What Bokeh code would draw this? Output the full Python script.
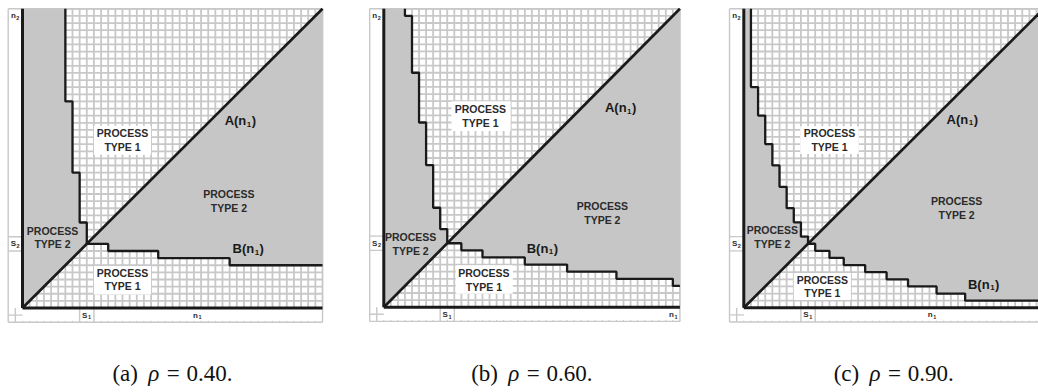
import numpy as np
from bokeh.plotting import figure
from bokeh.layouts import row
from bokeh.core.properties import value
from bokeh.embed import file_html
from bokeh.resources import INLINE

# ---- data -------------------------------------------------------------
N_CELLS = 42                      # extent of the (n1, n2) lattice
SWITCH_POINT = [9, 9, 9]          # S1 = S2 for each panel
PANEL_TAGS = ["(a)", "(b)", "(c)"]
RHO = ["0.40", "0.60", "0.90"]

# B(n1): n1 where each step starts, and the n2 level held from there on
B_START_A = [9, 12, 19, 29]
B_LEVEL_A = [9, 8, 7, 6]
B_START_B = [9, 11, 14, 20, 26, 33, 41]
B_LEVEL_B = [9, 8, 7, 6, 5, 4, 3]
B_START_C = [9, 10, 12, 14, 17, 20, 23, 27, 31]
B_LEVEL_C = [9, 8, 7, 6, 5, 4, 3, 2, 1]

# ---- layout (pixels / label placement) -------------------------------
FIG_W = [360, 360, 318]
FIG_H = 392
AXIS_X_PX = [22.0, 23.3, 23.3]    # pixel column of n1 = 0 inside each figure
CELL_X_PX = [7.143, 7.05, 7.14]
TOP_PX = 8.3
AXIS_Y_PX = [307.5, 306.7, 307.3]
CAPTION_Y_PX = 373

GRAY = "#c6c6c6"
GRID = "#c8c8c8"
INK = "#1a1a1a"
TXT = "#2b2b2b"
SANS = "Liberation Sans"
SERIF = "Liberation Serif"

LABELS = [
    dict(t1=(14.0, 23.6), t2r=(28.9, 15.0), t2l=(4.2, 9.9), t1b=(14.0, 4.0),
         a=(30.5, 26.3), b=(31.6, 8.3), n1=24.5,
         box1=(10.0, 18.0, 21.5, 25.6), box2=(10.0, 18.0, 1.9, 5.9)),
    dict(t1=(13.7, 26.9), t2r=(31.0, 13.2), t2l=(3.8, 8.9), t1b=(14.2, 3.8),
         a=(33.6, 28.1), b=(22.5, 8.3), n1=41.1,
         box1=(9.6, 18.0, 24.8, 29.0), box2=(10.2, 18.3, 1.9, 5.9)),
    dict(t1=(12.0, 23.6), t2r=(29.8, 14.0), t2l=(4.0, 9.9), t1b=(11.0, 3.0),
         a=(30.6, 26.5), b=(33.6, 3.3), n1=26.4,
         box1=(7.9, 16.1, 21.6, 25.5), box2=(7.0, 15.0, 1.1, 4.9)),
]

# advance widths (em) used to lay out mixed-size labels
SANS_BOLD_EM = {"A": .722, "B": .722, "S": .667, "n": .611, "(": .333,
                ")": .333, "1": .556, "2": .556}
SERIF_EM = {"(": .333, ")": .333, "a": .444, "b": .5, "c": .444, " ": .25,
            "=": .564, "0": .5, "4": .5, "6": .5, "9": .5, ".": .25, "\u03c1": .5}


def width(s, table, size):
    return sum(table.get(ch, .55) for ch in s) * size


def stair_path(starts, levels, n):
    xs, ys = [], []
    for i, (s, lev) in enumerate(zip(starts, levels)):
        end = starts[i + 1] if i + 1 < len(starts) else n
        xs += [s, end]
        ys += [lev, lev]
    return xs, ys


def subscripted(p, x, y, base, sub, tail, size, sub_size, color):
    """Draw base + lowered small sub + tail, centred on (x, y)."""
    wb = width(base, SANS_BOLD_EM, size)
    ws = width(sub, SANS_BOLD_EM, sub_size)
    wt = width(tail, SANS_BOLD_EM, size)
    total = wb + ws + wt + 1.0
    start = -total / 2
    offs = [start, start + wb + 0.5, start + wb + ws + 1.0]
    texts = [base, sub, tail]
    sizes = [f"{size}px", f"{sub_size}px", f"{size}px"]
    yoffs = [0, size * 0.28, 0]
    for t, o, sz, yo in zip(texts, offs, sizes, yoffs):
        if not t:
            continue
        p.text(x=[x], y=[y], text=[t], x_offset=o, y_offset=yo,
               text_font=value(SANS), text_font_style="bold", text_font_size=sz,
               text_color=color, text_align="left", text_baseline="middle")


def panel(k, starts, levels):
    n = N_CELLS
    s = SWITCH_POINT[k]
    w = FIG_W[k]
    cx = CELL_X_PX[k]
    cy = (AXIS_Y_PX[k] - TOP_PX) / n
    x0 = -AXIS_X_PX[k] / cx
    x1 = (w - AXIS_X_PX[k]) / cx
    y0 = -(FIG_H - AXIS_Y_PX[k]) / cy
    y1 = n + TOP_PX / cy

    p = figure(width=w, height=FIG_H, x_range=(x0, x1), y_range=(y0, y1),
               output_backend="svg", toolbar_location=None,
               min_border=0, min_border_left=0, min_border_right=0,
               min_border_top=0, min_border_bottom=0)
    p.axis.visible = False
    p.grid.visible = False
    p.outline_line_color = None
    p.background_fill_color = "white"
    p.border_fill_color = "white"

    # lattice of cells
    ticks = np.arange(0, n + 1)
    zeros = np.zeros_like(ticks)
    full = np.full_like(ticks, n)
    p.segment(x0=ticks, y0=zeros, x1=ticks, y1=full, line_color=GRID, line_width=1.8)
    p.segment(x0=zeros, y0=ticks, x1=full, y1=ticks, line_color=GRID, line_width=1.8)

    # header column / footer row of the sheet
    fx0 = [-2, -2, -2, -2, -2, -2, -1, s - 1, s + 1, n]
    fy0 = [-2, n, -2, -1, s - 1, s + 1, -2, -2, -2, -2]
    fx1 = [-2, n, n, 0, 0, 0, -1, s - 1, s + 1, n]
    fy1 = [n, n, -2, -1, s - 1, s + 1, 0, 0, 0, 0]
    p.segment(x0=fx0, y0=fy0, x1=fx1, y1=fy1, line_color=GRID, line_width=1.4)
    p.segment(x0=ticks, y0=np.full(len(ticks), -2.0), x1=ticks,
              y1=np.full(len(ticks), -1.8), line_color=GRID, line_width=1.0)

    # regions where process type 2 applies
    bx, by = stair_path(starts, levels, n)
    p.patch(bx + [n], by + [n], fill_color=GRAY, line_color=None)
    p.patch([0] + by + [0], [0] + bx + [n], fill_color=GRAY, line_color=None)

    # boundaries
    p.line(bx, by, line_color=INK, line_width=2.3)
    p.line(by, bx, line_color=INK, line_width=2.3)
    p.line([0, n], [0, n], line_color=INK, line_width=2.7)
    p.line([0, 0], [0, n], line_color=INK, line_width=3.0)
    p.line([0, n], [0, 0], line_color=INK, line_width=3.0)

    lab = LABELS[k]
    for box in (lab["box1"], lab["box2"]):
        p.quad(left=box[0], right=box[1], bottom=box[2], top=box[3],
               fill_color="white", line_color=None)

    dy = 1.95
    px_, py_, pt = [], [], []
    for key, word in (("t1", "TYPE 1"), ("t2r", "TYPE 2"),
                      ("t2l", "TYPE 2"), ("t1b", "TYPE 1")):
        lx, ly = lab[key]
        px_ += [lx, lx]
        py_ += [ly + dy / 2, ly - dy / 2]
        pt += ["PROCESS", word]
    p.text(x=px_, y=py_, text=pt, text_font=value(SANS),
           text_font_style="bold", text_font_size="10.5px", text_color=TXT,
           text_align="center", text_baseline="middle")

    subscripted(p, lab["a"][0], lab["a"][1], "A(n", "1", ")", 13, 8, INK)
    subscripted(p, lab["b"][0], lab["b"][1], "B(n", "1", ")", 13, 8, INK)

    subscripted(p, -1, n - 0.95, "n", "2", "", 8, 5.5, TXT)
    subscripted(p, -1, s, "S", "2", "", 8, 5.5, TXT)
    subscripted(p, s, -1, "S", "1", "", 8, 5.5, TXT)
    subscripted(p, lab["n1"], -1, "n", "1", "", 8, 5.5, TXT)

    # caption: "(x) rho = value."
    fs = 23
    parts = [(PANEL_TAGS[k], "normal"), ("\u03c1", "italic"),
             ("=", "normal"), (RHO[k] + ".", "normal")]
    gaps = [0.45 * fs, 0.3 * fs, 0.3 * fs, 0]
    widths = [width(t, SERIF_EM, fs) for t, _ in parts]
    total = sum(widths) + sum(gaps)
    o = -total / 2
    cap_y = -(CAPTION_Y_PX - AXIS_Y_PX[k]) / cy
    for (t, style), wdt, g in zip(parts, widths, gaps):
        p.text(x=[n / 2], y=[cap_y], text=[t], x_offset=o,
               text_font=value(SERIF), text_font_style=style,
               text_font_size=f"{fs}px", text_color="#111111",
               text_align="left", text_baseline="middle")
        o += wdt + g
    return p


panels = [panel(0, B_START_A, B_LEVEL_A),
          panel(1, B_START_B, B_LEVEL_B),
          panel(2, B_START_C, B_LEVEL_C)]
layout = row(*panels, spacing=0)

open("out.html", "w").write(file_html(layout, INLINE))
